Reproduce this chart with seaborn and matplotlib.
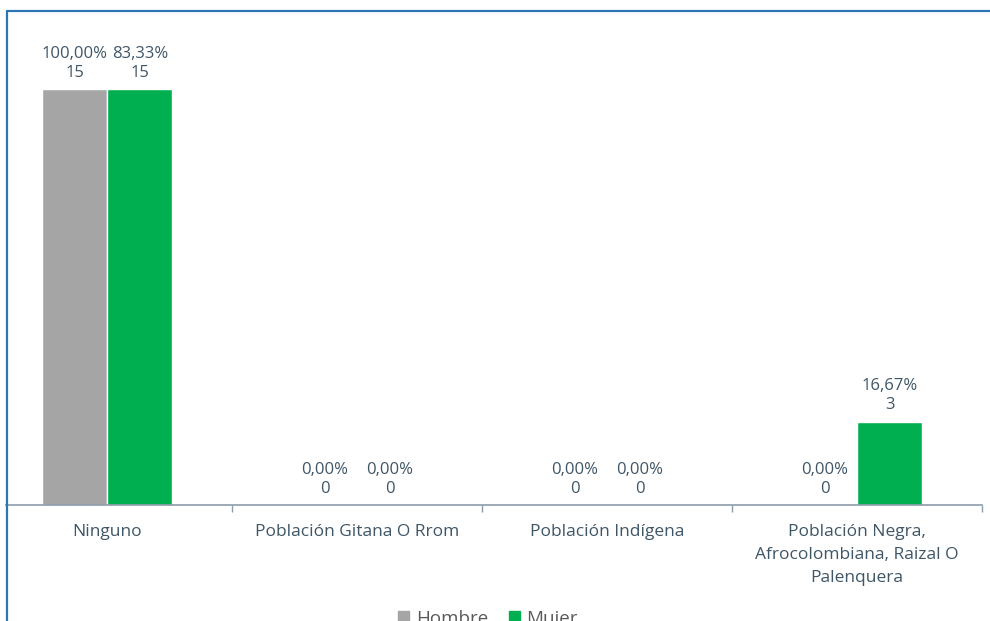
import pandas as pd
import matplotlib.pyplot as plt
import seaborn as sns
from matplotlib.lines import Line2D

# Data
categorias = ["Ninguno", "Población Gitana O Rrom", "Población Indígena",
              "Población Negra,\nAfrocolombiana, Raizal O\nPalenquera"]
hombre = [15, 0, 0, 0]
mujer = [15, 0, 0, 3]
pct_hombre = ["100,00%", "0,00%", "0,00%", "0,00%"]
pct_mujer = ["83,33%", "0,00%", "0,00%", "16,67%"]

df = pd.DataFrame({
    "categoria": categorias * 2,
    "cantidad": hombre + mujer,
    "sexo": ["Hombre"] * 4 + ["Mujer"] * 4,
})

sns.set_style("white")
plt.rcParams['font.family'] = ['Open Sans', 'DejaVu Sans']

text_color = "#3F5666"
axis_color = "#8C9BAB"
fig = plt.figure(figsize=(9.9, 6.21), dpi=100)
W, H = 990, 621
ax = fig.add_axes([-17.5 / W, 1 - 505 / H, 999.5 / W, (505 - 40) / H])

sns.barplot(data=df, x="categoria", y="cantidad", hue="sexo",
            palette=["#A5A5A5", "#00B050"], width=0.52, saturation=1,
            ax=ax, legend=True)
ax.set_ylim(0, 16.77)
ax.set_xlim(-0.5, 3.5)

# data labels: percentage + count
for cont, pcts, vals in zip(ax.containers, [pct_hombre, pct_mujer], [hombre, mujer]):
    labels = [f"{p}\n{v}" for p, v in zip(pcts, vals)]
    ax.bar_label(cont, labels=labels, padding=6, fontsize=12,
                 color=text_color, linespacing=1.25)

# axes styling
for s in ["top", "right", "left"]:
    ax.spines[s].set_visible(False)
ax.spines["bottom"].set_color(axis_color)
ax.spines["bottom"].set_linewidth(1.2)
ax.spines["bottom"].set_bounds(-0.404, 3.5)
ax.set_yticks([])
ax.set_xlabel("")
ax.set_ylabel("")
ax.set_xticks(range(4))
ax.set_xticklabels(categorias, fontsize=12.5, color=text_color, linespacing=1.55)
ax.tick_params(axis="x", which="major", length=0, pad=14)
ax.set_xticks([i - 0.5 for i in range(5)], minor=True)
ax.tick_params(axis="x", which="minor", bottom=True, length=5,
               color=axis_color, width=1)

# legend at bottom
ax.get_legend().remove()
handles = [plt.Rectangle((0, 0), 1, 1, color="#A5A5A5"),
           plt.Rectangle((0, 0), 1, 1, color="#00B050")]
fig.legend(handles, ["Hombre", "Mujer"], loc="center", ncol=2,
           bbox_to_anchor=(488 / W, 1 - 619 / H), frameon=False,
           fontsize=13.5, labelcolor="#595959", handlelength=0.6,
           handleheight=0.6, handletextpad=0.35, columnspacing=1.1)

# chart border (blue frame, cropped)
fig.add_artist(Line2D([6.5 / W, 6.5 / W], [0, 1 - 11 / H], color="#2E75B6",
                      lw=1.6, transform=fig.transFigure))
fig.add_artist(Line2D([6.5 / W, 1], [1 - 11 / H, 1 - 11 / H], color="#2E75B6",
                      lw=1.6, transform=fig.transFigure))

fig.savefig("out.png", dpi=100)
